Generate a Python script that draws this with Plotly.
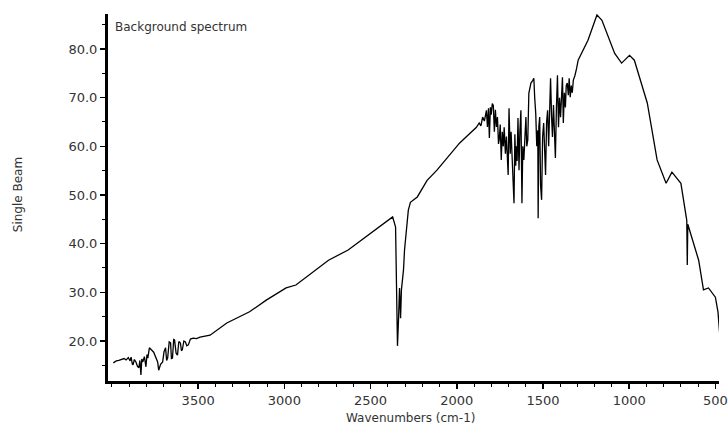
import plotly.graph_objects as go

# Wavenumbers (cm-1) and single-beam intensity
wavenumber = [
    3992, 3975, 3960, 3945, 3930, 3918, 3905, 3895, 3889, 3882,
    3878, 3870, 3861, 3852, 3844, 3838, 3832, 3827, 3821, 3812,
    3803, 3797, 3792, 3783, 3775, 3766, 3758, 3746, 3735, 3729,
    3718, 3706, 3698, 3689, 3683, 3677, 3668, 3660, 3655, 3649,
    3642, 3637, 3628, 3620, 3612, 3603, 3597, 3592, 3583, 3574,
    3566, 3557, 3545, 3529, 3510, 3489, 3460, 3431, 3334, 3300,
    3202, 3105, 2990, 2933, 2819, 2744, 2630, 2372, 2355, 2349,
    2344, 2338, 2332, 2326, 2321, 2309, 2303, 2292, 2281, 2269,
    2229, 2172, 2115, 1983, 1886, 1870, 1860, 1850, 1840, 1828,
    1822, 1816, 1811, 1805, 1800, 1794, 1788, 1782, 1776, 1770,
    1764, 1758, 1754, 1748, 1742, 1736, 1730, 1725, 1718, 1712,
    1706, 1702, 1697, 1690, 1685, 1680, 1674, 1668, 1663, 1658,
    1655, 1650, 1645, 1639, 1634, 1628, 1622, 1617, 1611, 1605,
    1599, 1594, 1588, 1582, 1570, 1560, 1553, 1548, 1542, 1536,
    1530, 1528, 1524, 1519, 1514, 1508, 1502, 1496, 1490, 1485,
    1479, 1473, 1467, 1462, 1456, 1450, 1445, 1439, 1434, 1428,
    1422, 1416, 1410, 1404, 1398, 1393, 1387, 1382, 1376, 1370,
    1365, 1359, 1353, 1348, 1342, 1336, 1330, 1324, 1315, 1305,
    1296, 1239, 1187, 1158, 1084, 1044, 998, 970, 895, 838,
    786, 752, 700, 666, 663, 660, 637, 597, 569, 540,
    500, 485, 475,
]
single_beam = [
    15.5, 15.9, 16.0, 16.2, 16.4, 16.1, 16.6, 15.9, 16.7, 15.3,
    15.1, 16.2, 15.7, 14.8, 14.5, 16.0, 13.0, 16.3, 15.7, 16.8,
    14.7, 17.2, 16.5, 18.6, 18.2, 18.0, 17.7, 16.8, 15.7, 14.0,
    15.2, 15.7, 17.8, 18.6, 16.0, 16.5, 19.8, 19.6, 16.4, 16.5,
    20.3, 20.2, 17.5, 17.1, 19.9, 19.6, 18.0, 18.2, 20.0, 19.8,
    19.0, 19.2, 20.4, 20.6, 20.5, 20.8, 21.0, 21.2, 23.7, 24.3,
    26.0, 28.4, 30.9, 31.5, 34.6, 36.6, 38.7, 45.5, 43.4, 28.4,
    19.0, 24.3, 30.9, 24.7, 30.5, 34.6, 38.7, 42.8, 46.9, 48.5,
    49.6, 53.0, 55.1, 60.7, 63.9, 64.8, 64.2, 66.0, 65.2, 67.4,
    64.0, 67.8, 61.7, 68.0, 66.5, 68.8, 68.4, 63.0, 67.5, 64.0,
    66.0, 60.5, 61.3, 64.5, 57.2, 63.0, 60.0, 63.9, 58.5, 62.0,
    56.5, 54.1, 67.8, 58.5, 63.0, 58.0, 53.1, 48.3, 62.5, 56.0,
    60.0, 57.0, 65.8, 55.1, 63.0, 67.4, 48.3, 60.0, 57.2, 64.0,
    66.0, 60.0, 61.3, 70.9, 73.0, 73.5, 74.0, 70.0, 66.8, 60.0,
    63.3, 45.2, 64.0, 66.0, 52.0, 49.0, 62.0, 64.8, 56.0, 54.1,
    65.0, 67.4, 60.0, 68.0, 74.0, 66.0, 61.9, 68.5, 64.0, 57.6,
    68.0, 74.6, 63.9, 70.0, 66.0, 72.0, 74.2, 64.8, 71.0, 68.0,
    72.5, 73.0, 70.5, 74.0, 70.1, 72.5, 71.0, 73.6, 74.5, 76.0,
    77.7, 81.8, 87.0, 85.9, 79.1, 77.1, 78.7, 77.7, 68.9, 57.2,
    52.4, 54.7, 52.4, 44.8, 35.6, 44.0, 41.1, 36.6, 30.5, 30.9,
    29.0, 26.0, 21.5,
]

x_ticks = [3500, 3000, 2500, 2000, 1500, 1000, 500]
y_ticks = [20.0, 30.0, 40.0, 50.0, 60.0, 70.0, 80.0]

FONT = "DejaVu Sans"
TXT = "#333333"

fig = go.Figure(
    go.Scatter(
        x=wavenumber, y=single_beam, mode="lines",
        line=dict(color="black", width=1.3), hoverinfo="skip",
    )
)

fig.update_layout(
    width=728, height=427,
    margin=dict(l=108, r=0, t=14, b=46),
    paper_bgcolor="white", plot_bgcolor="white",
    showlegend=False,
    font=dict(family=FONT, size=13, color=TXT),
    xaxis=dict(
        range=[4023, 479], tickvals=x_ticks, ticktext=[str(v) for v in x_ticks],
        showgrid=False, zeroline=False, showline=True, linecolor="black", linewidth=3,
        ticks="outside", ticklen=5, tickwidth=1.5, tickcolor="black",
        ticklabeloverflow="allow",
        tickfont=dict(family=FONT, size=13, color=TXT),
        minor=dict(dtick=100, tick0=0, ticks="outside", ticklen=3, tickwidth=1, tickcolor="black"),
    ),
    yaxis=dict(
        range=[11.78, 87.19], tickvals=y_ticks, ticktext=[f"{v:.1f}" for v in y_ticks],
        showgrid=False, zeroline=False, showline=True, linecolor="black", linewidth=3,
        ticks="outside", ticklen=5, tickwidth=1.5, tickcolor="black",
        tickfont=dict(family=FONT, size=13, color=TXT),
        minor=dict(dtick=5, tick0=0, ticks="outside", ticklen=3, tickwidth=1, tickcolor="black"),
    ),
    annotations=[
        dict(text="Background spectrum", xref="paper", yref="paper", x=0.008, y=0.9646,
             xanchor="left", yanchor="middle", showarrow=False,
             font=dict(family=FONT, size=12, color=TXT)),
        dict(text="Single Beam", xref="paper", yref="paper", x=-0.1468, y=0.507,
             xanchor="center", yanchor="middle", textangle=-90, showarrow=False,
             font=dict(family=FONT, size=12, color=TXT)),
        dict(text="Wavenumbers (cm-1)", xref="paper", yref="paper", x=0.495, y=-0.1008,
             xanchor="center", yanchor="middle", showarrow=False,
             font=dict(family=FONT, size=12, color=TXT)),
    ],
)

# remove the default page margin so the 728x427 figure fills the window exactly
fig.write_html(
    "out.html",
    config={"displayModeBar": False, "staticPlot": True},
    post_script="document.body.style.margin='0';document.body.style.overflow='hidden';"
    "document.documentElement.style.overflow='hidden';",
)
